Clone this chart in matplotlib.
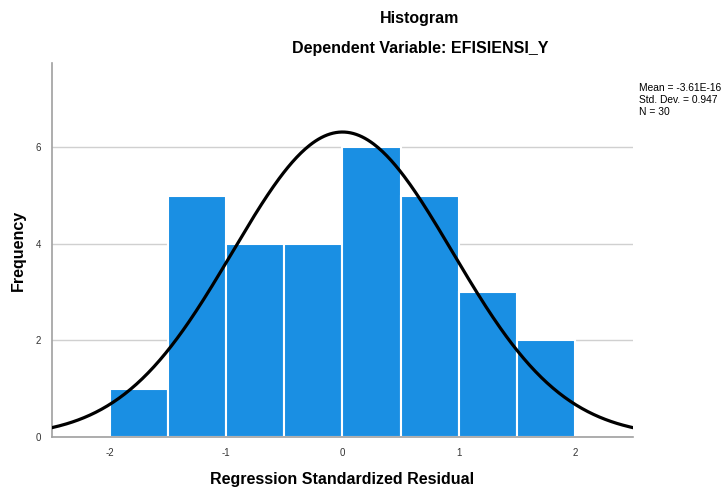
import numpy as np
import matplotlib
matplotlib.use('Agg')
from matplotlib import pyplot as plt

plt.rcParams['font.family'] = ['Liberation Sans', 'DejaVu Sans']
plt.rcParams['axes.unicode_minus'] = False

bin_edges = [-2.0, -1.5, -1.0, -0.5, 0.0, 0.5, 1.0, 1.5, 2.0]
counts = [1, 5, 4, 4, 6, 5, 3, 2]
mean = -3.61e-16
std = 0.947
n = 30
bin_width = 0.5

fig = plt.figure(figsize=(7.25, 4.87), dpi=100)
ax = fig.add_axes([0.0717, 0.1027, 0.8013, 0.768])

lefts = np.array(bin_edges[:-1])
ax.bar(lefts, counts, width=bin_width, align='edge', color='#1a8fe3',
       edgecolor='white', linewidth=1.5, zorder=2)

# normal curve scaled to counts
xs = np.linspace(-2.5, 2.5, 400)
ys = n * bin_width / (std * np.sqrt(2 * np.pi)) * np.exp(-0.5 * ((xs - mean) / std) ** 2)
ax.plot(xs, ys, color='black', linewidth=2.3, zorder=3)

ax.set_xlim(-2.5, 2.5)
ax.set_ylim(0, 7.75)
ax.set_xticks([-2, -1, 0, 1, 2])
ax.set_yticks([0, 2, 4, 6])
ax.tick_params(length=0, labelsize=7, colors='#333333', pad=8)
ax.grid(axis='y', color='#d0d0d0', linewidth=1, zorder=0)
ax.set_axisbelow(True)
for s in ['top', 'right']:
    ax.spines[s].set_visible(False)
for s in ['left', 'bottom']:
    ax.spines[s].set_color('#a0a0a0')
    ax.spines[s].set_linewidth(1.2)

ax.set_xlabel('Regression Standardized Residual', fontsize=11.5, fontweight='bold', labelpad=10)
ax.set_ylabel('Frequency', fontsize=11.5, fontweight='bold', labelpad=7)

fig.text(420 / 725, 1 - 18 / 487, 'Histogram', ha='center', va='center',
         fontsize=11.5, fontweight='bold')
fig.text(420 / 725, 1 - 48 / 487, 'Dependent Variable: EFISIENSI_Y', ha='center', va='center',
         fontsize=11.5, fontweight='bold')
fig.text(639 / 725, 1 - 100 / 487,
         'Mean = -3.61E-16\nStd. Dev. = 0.947\nN = %d' % n,
         ha='left', va='center', fontsize=7.4, linespacing=1.2)

fig.savefig('out.png', dpi=100)
